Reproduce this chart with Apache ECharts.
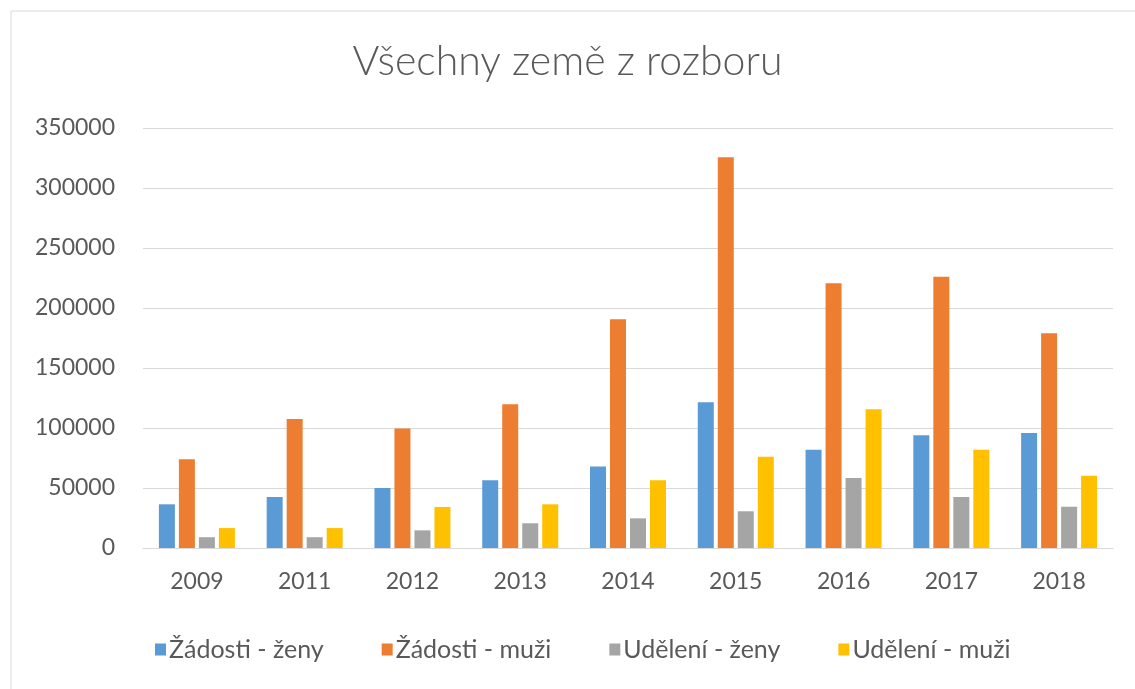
<!DOCTYPE html>
<html>
<head>
<meta charset="utf-8">
<script src="https://cdn.jsdelivr.net/npm/echarts@6/dist/echarts.min.js"></script>
<style>
html,body{margin:0;padding:0;background:#fff;}
#graf{width:1135px;height:689px;}
</style>
</head>
<body>
<div id="graf"></div>
<script>
// roky a hodnoty
var roky = ['2009','2011','2012','2013','2014','2015','2016','2017','2018'];
var zadostiZeny = [36400, 42500, 50000, 56400, 68000, 121400, 81900, 93900, 95800];
var zadostiMuzi = [74000, 107500, 99600, 119700, 190600, 325600, 220600, 226100, 178900];
var udeleniZeny = [9000, 9000, 14700, 20600, 24700, 30600, 58300, 42500, 34400];
var udeleniMuzi = [16600, 16600, 34200, 36400, 56400, 76100, 115600, 81900, 60300];
var nazvy = ['Žádosti - ženy', 'Žádosti - muži', 'Udělení - ženy', 'Udělení - muži'];
var barvy = ['#5B9BD5', '#ED7D31', '#A5A5A5', '#FFC000'];

var myChart = echarts.init(document.getElementById('graf'));
var pismo = 'Lato';

function sloupec(i, data) {
    return {
        name: nazvy[i],
        type: 'bar',
        barWidth: 16,
        barGap: '25%',
        itemStyle: {color: barvy[i]},
        data: data
    };
}

var option = {
    animation: false,
    color: barvy,
    graphic: [{
        type: 'rect',
        shape: {x: 11, y: 11, width: 1140, height: 700},
        style: {fill: 'none', stroke: '#d9d9d9', lineWidth: 1}
    }],
    title: {
        text: 'Všechny země z rozboru',
        left: 'center',
        top: 36,
        textStyle: {
            fontFamily: pismo,
            fontWeight: 300,
            fontSize: 41,
            color: '#595959'
        }
    },
    legend: {
        data: nazvy,
        top: 632,
        left: 150,
        icon: 'rect',
        itemWidth: 11,
        itemHeight: 12,
        itemGap: 58,
        textStyle: {fontFamily: pismo, fontSize: 25, color: '#595959', padding: [0, 0, 0, -2]}
    },
    grid: {
        left: 143,
        right: 22,
        top: 128,
        bottom: 141,
        containLabel: false
    },
    xAxis: {
        type: 'category',
        data: roky,
        axisLine: {lineStyle: {color: '#d9d9d9'}},
        axisTick: {show: false},
        axisLabel: {fontFamily: pismo, fontSize: 23, color: '#595959', margin: 22}
    },
    yAxis: {
        type: 'value',
        min: 0,
        max: 350000,
        interval: 50000,
        axisLine: {show: false},
        axisTick: {show: false},
        splitLine: {lineStyle: {color: '#d9d9d9'}},
        axisLabel: {
            fontFamily: pismo, fontSize: 23, color: '#595959', margin: 28,
            formatter: function (v) { return String(v); }
        }
    },
    series: [
        sloupec(0, zadostiZeny),
        sloupec(1, zadostiMuzi),
        sloupec(2, udeleniZeny),
        sloupec(3, udeleniMuzi)
    ]
};
myChart.setOption(option);
</script>
</body>
</html>
